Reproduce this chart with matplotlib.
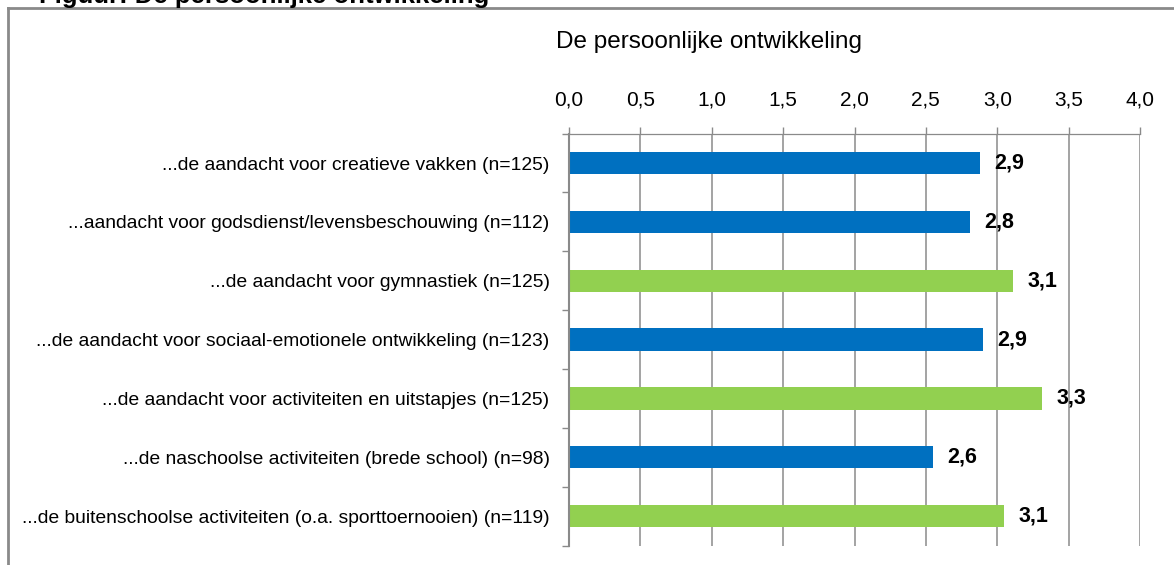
import numpy as np
import matplotlib.pyplot as plt
from matplotlib.lines import Line2D

# data
categories = [
    "...de aandacht voor creatieve vakken (n=125)",
    "...aandacht voor godsdienst/levensbeschouwing (n=112)",
    "...de aandacht voor gymnastiek (n=125)",
    "...de aandacht voor sociaal-emotionele ontwikkeling (n=123)",
    "...de aandacht voor activiteiten en uitstapjes (n=125)",
    "...de naschoolse activiteiten (brede school) (n=98)",
    "...de buitenschoolse activiteiten (o.a. sporttoernooien) (n=119)",
]
scores = [2.88, 2.81, 3.11, 2.90, 3.31, 2.55, 3.05]
score_labels = ["2,9", "2,8", "3,1", "2,9", "3,3", "2,6", "3,1"]
bar_colors = ["#0070C0", "#0070C0", "#92D050", "#0070C0", "#92D050", "#0070C0", "#92D050"]
xticks = [0.0, 0.5, 1.0, 1.5, 2.0, 2.5, 3.0, 3.5, 4.0]
xtick_labels = ["0,0", "0,5", "1,0", "1,5", "2,0", "2,5", "3,0", "3,5", "4,0"]

W, H = 1174, 565
grey = "#8a8a8a"

fig = plt.figure(figsize=(W / 100, H / 100), dpi=100)
ax = fig.add_axes([569 / W, 1 - 545.5 / H, (1140 - 569) / W, (545.5 - 133.6) / H])

y = np.arange(len(categories))
ax.barh(y, scores, height=0.38, color=bar_colors, zorder=2)

for yi, v, lab in zip(y, scores, score_labels):
    ax.annotate(lab, (v, yi), xytext=(10.5, 0), textcoords="offset points",
                va="center", ha="left", fontsize=15.5, fontweight="bold",
                family="Liberation Sans")

ax.set_xlim(0, 4)
ax.set_ylim(len(categories) - 0.5, -0.5)

# x axis on top, grid every 0.5
ax.xaxis.tick_top()
ax.set_xticks(xticks)
ax.set_xticklabels(xtick_labels, family="Liberation Sans", fontsize=15)
ax.tick_params(axis="x", length=5, width=1, color=grey, pad=12)
ax.grid(axis="x", color=grey, lw=1.1, zorder=0)
ax.set_axisbelow(True)

# y: ticks at the category borders, labels in between
ax.set_yticks(np.arange(-0.5, len(categories), 1.0))
ax.set_yticklabels([])
ax.set_yticks(y, minor=True)
ax.set_yticklabels(categories, minor=True, fontsize=13.9, family="Liberation Sans")
ax.tick_params(axis="y", which="major", length=5, width=1, color=grey)
ax.tick_params(axis="y", which="minor", length=0, pad=14)

for s in ["right", "bottom"]:
    ax.spines[s].set_visible(False)
ax.spines["left"].set_color(grey)
ax.spines["left"].set_linewidth(1.5)
ax.spines["top"].set_color(grey)
ax.spines["top"].set_linewidth(0.9)

# title and the cut off heading above the frame
fig.text(709 / W, 1 - 42 / H, "De persoonlijke ontwikkeling", ha="center", va="center",
         fontsize=17.5, family="Liberation Sans")
fig.text(39 / W, 1 - 3 / H, "Figuur: De persoonlijke ontwikkeling", ha="left", va="baseline",
         fontsize=18.5, fontweight="bold", family="Liberation Sans")

# grey frame round the chart (right and bottom edge fall outside the picture)
fx, fy = 8 / W, 1 - 7.5 / H
fig.add_artist(Line2D([fx, fx], [0, fy], color=grey, lw=2))
fig.add_artist(Line2D([fx, 1], [fy, fy], color=grey, lw=2))

fig.savefig("out.png", dpi=100)
